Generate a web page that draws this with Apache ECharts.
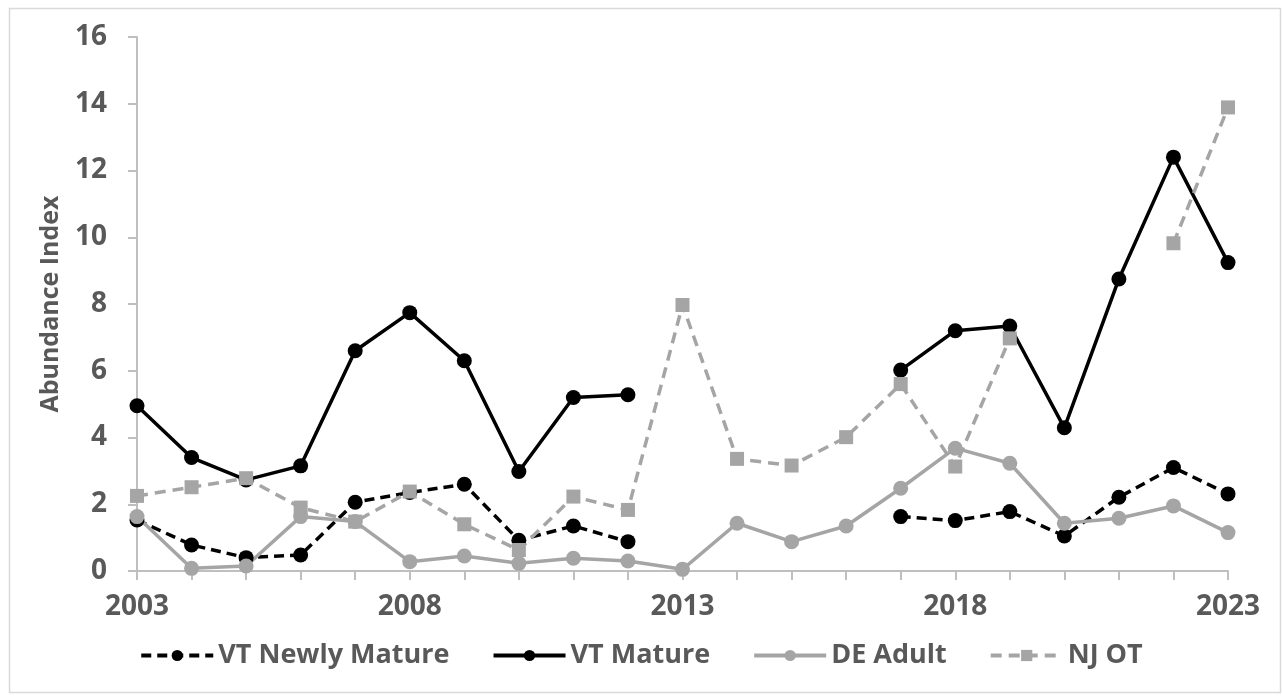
<!DOCTYPE html>
<html>
<head>
<meta charset="utf-8">
<script src="https://cdn.jsdelivr.net/npm/echarts@6/dist/echarts.min.js"></script>
<style>
html,body{margin:0;padding:0;background:#fff;}
#chart{width:1282px;height:696px;}
</style>
</head>
<body>
<div id="chart"></div>
<script>
const years = ['2003','2004','2005','2006','2007','2008','2009','2010','2011','2012','2013','2014','2015','2016','2017','2018','2019','2020','2021','2022','2023'];
const vtNewlyMature = [1.53, 0.78, 0.40, 0.48, 2.06, 2.35, 2.60, 0.92, 1.35, 0.88, null, null, null, null, 1.63, 1.51, 1.78, 1.05, 2.21, 3.10, 2.31];
const vtMature = [4.95, 3.40, 2.73, 3.15, 6.60, 7.74, 6.30, 2.98, 5.20, 5.28, null, null, null, null, 6.02, 7.20, 7.34, 4.29, 8.75, 12.40, 9.24];
const deAdult = [1.63, 0.08, 0.15, 1.63, 1.48, 0.28, 0.45, 0.23, 0.38, 0.30, 0.05, 1.43, 0.88, 1.35, 2.48, 3.68, 3.23, 1.43, 1.58, 1.95, 1.15];
const njOT = [2.25, 2.51, 2.78, 1.90, 1.48, 2.38, 1.40, 0.63, 2.23, 1.83, 7.97, 3.36, 3.16, 4.01, 5.60, 3.13, 6.97, null, null, 9.82, 13.89];
const yTicks = {min: 0, max: 16, step: 2};

const FONT = '"Open Sans", "Liberation Sans", sans-serif';
const TXT = '#595959';
const GREY = '#A5A5A5';
const AXIS = '#BFBFBF';

const chart = echarts.init(document.getElementById('chart'));
chart.setOption({
  backgroundColor: '#fff',
  animation: false,
  textStyle: {fontFamily: FONT},
  graphic: [{
    type: 'rect', left: 7, top: 6,
    shape: {x: 0, y: 0, width: 1271, height: 684},
    style: {fill: 'none', stroke: '#D9D9D9', lineWidth: 1.5},
    silent: true, z: -10
  }],
  grid: {left: 137, right: 54, top: 37, bottom: 125, containLabel: false},
  legend: {
    bottom: 22, left: 'center',
    itemWidth: 72, itemHeight: 14, itemGap: 42,
    lineStyle: {width: 4},
    textStyle: {fontFamily: FONT, fontSize: 27, fontWeight: 'bold', color: TXT},
    data: ['VT Newly Mature', 'VT Mature', 'DE Adult', 'NJ OT']
  },
  xAxis: {
    type: 'category',
    data: years,
    boundaryGap: false,
    axisLine: {lineStyle: {color: AXIS, width: 2}},
    axisTick: {show: true, interval: 0, length: 9, lineStyle: {color: AXIS, width: 2}},
    axisLabel: {interval: 4, margin: 22, fontFamily: FONT, fontSize: 28, fontWeight: 'bold', color: TXT},
    splitLine: {show: false}
  },
  yAxis: {
    type: 'value',
    min: yTicks.min, max: yTicks.max, interval: yTicks.step,
    name: 'Abundance Index',
    nameLocation: 'middle',
    nameGap: 74,
    nameTextStyle: {fontFamily: FONT, fontSize: 25, fontWeight: 'bold', color: TXT},
    axisLine: {show: true, lineStyle: {color: AXIS, width: 2}},
    axisTick: {show: true, length: 9, lineStyle: {color: AXIS, width: 2}},
    axisLabel: {margin: 30, fontFamily: FONT, fontSize: 28, fontWeight: 'bold', color: TXT},
    splitLine: {show: false}
  },
  series: [
    {
      name: 'VT Newly Mature', type: 'line', data: vtNewlyMature, connectNulls: false,
      symbol: 'circle', symbolSize: 15, showAllSymbol: true,
      itemStyle: {color: '#000'},
      lineStyle: {color: '#000', width: 3.5, type: [10, 6]}
    },
    {
      name: 'VT Mature', type: 'line', data: vtMature, connectNulls: false,
      symbol: 'circle', symbolSize: 15, showAllSymbol: true,
      itemStyle: {color: '#000'},
      lineStyle: {color: '#000', width: 3.5, type: 'solid'}
    },
    {
      name: 'DE Adult', type: 'line', data: deAdult, connectNulls: false,
      symbol: 'circle', symbolSize: 15, showAllSymbol: true,
      itemStyle: {color: GREY},
      lineStyle: {color: GREY, width: 3.5, type: 'solid'}
    },
    {
      name: 'NJ OT', type: 'line', data: njOT, connectNulls: false,
      symbol: 'rect', symbolSize: 14, showAllSymbol: true,
      itemStyle: {color: GREY},
      lineStyle: {color: GREY, width: 3.5, type: [11, 7]}
    }
  ]
});
</script>
</body>
</html>
